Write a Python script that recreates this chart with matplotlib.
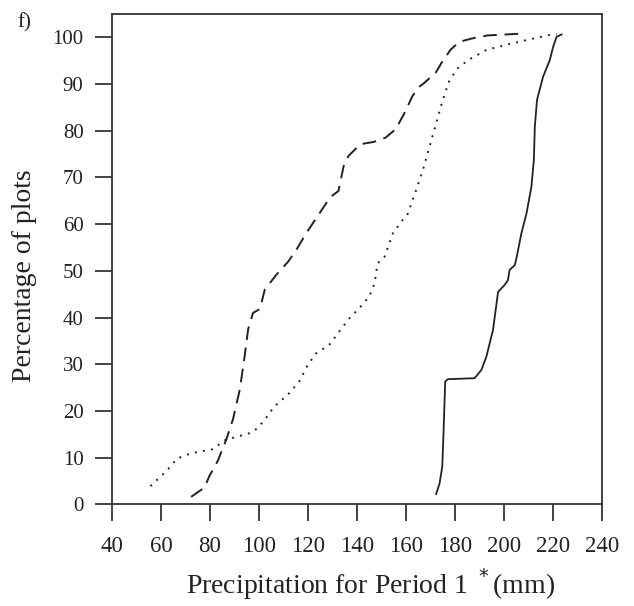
import matplotlib.pyplot as plt

plt.rcParams['font.family'] = ['Liberation Serif', 'DejaVu Serif']

# dashed curve
dash_x = [72.3, 77.8, 79.8, 83.2, 86.7, 89.4, 92.2, 94.2, 95.6, 97.6, 100.4, 102.4, 107.2,
          112.0, 115.4, 119.5, 125.0, 129.0, 132.5, 134.6, 136.6, 141.4, 146.9, 151.7, 155.8,
          159.2, 162.7, 165.4, 166.8, 172.2, 175.0, 178.4, 181.8, 186.6, 193.4, 207.8]
dash_y = [1.6, 3.6, 6.1, 9.3, 13.9, 18.2, 24.6, 31.8, 37.5, 41.0, 41.8, 46.0, 49.2,
          52.0, 54.6, 58.2, 62.5, 65.7, 67.1, 72.4, 74.6, 77.1, 77.6, 78.5, 80.3,
          83.5, 87.4, 89.4, 89.9, 92.4, 94.9, 97.4, 99.0, 99.7, 100.4, 100.8]

# dotted curve
dot_x = [55.7, 59.8, 63.2, 66.6, 72.1, 81.0, 86.4, 91.9, 96.7, 99.4, 102.8, 106.2, 111.7,
         116.5, 119.9, 123.3, 128.7, 132.8, 136.9, 141.0, 145.1, 147.2, 148.5, 151.3, 154.7,
         158.1, 160.8, 164.2, 167.0, 169.7, 172.4, 175.1, 177.9, 181.3, 185.4, 192.9, 201.1,
         209.3, 218.8, 221.6]
dot_y = [3.9, 5.9, 7.7, 9.8, 10.9, 11.8, 13.8, 14.6, 15.3, 16.3, 18.4, 20.9, 23.4,
         26.3, 29.8, 32.3, 34.1, 37.0, 39.8, 42.0, 44.5, 47.3, 51.6, 53.0, 58.0,
         60.5, 62.2, 67.3, 71.6, 76.6, 81.6, 86.6, 90.9, 93.4, 95.1, 97.3, 98.4,
         99.4, 100.5, 100.6]

# solid curve
solid_x = [172.4, 173.8, 174.9, 175.4, 176.1, 177.2, 188.1, 190.9, 192.9, 195.6, 197.7,
           200.4, 201.7, 202.4, 204.5, 205.2, 207.2, 209.3, 211.3, 212.3, 212.7, 213.6,
           216.1, 218.8, 220.2, 221.6, 223.6]
solid_y = [2.2, 4.5, 8.1, 15.2, 26.3, 26.8, 27.0, 28.8, 31.6, 37.3, 45.5,
           47.0, 48.0, 50.2, 51.2, 52.7, 58.0, 62.3, 68.0, 73.7, 80.9, 86.6,
           91.6, 95.1, 98.0, 100.1, 100.6]

x_ticks = list(range(40, 241, 20))
y_ticks = list(range(0, 101, 10))

fig = plt.figure(figsize=(6.34, 6.06), dpi=100)
ax = fig.add_axes([0.1767, 0.1678, 0.7723, 0.8092])

ax.plot(dash_x, dash_y, color='#222222', lw=1.4, linestyle=(0, (7, 4)))
ax.plot(dot_x, dot_y, color='#222222', lw=1.4, linestyle=(0, (1, 3.2)))
ax.plot(solid_x, solid_y, color='#222222', lw=1.3)

ax.set_xlim(40, 240)
ax.set_ylim(0, 105)
ax.set_xticks(x_ticks)
ax.set_yticks(y_ticks)
ax.tick_params(direction='out', width=1.2, colors='#222222')
ax.tick_params(axis='x', length=12.5, pad=10, labelsize=16.5)
ax.tick_params(axis='y', length=12.5, pad=8, labelsize=15)
for s in ax.spines.values():
    s.set_linewidth(1.3)
    s.set_color('#333333')

ax.set_xlabel('Precipitation for Period 1 $^*$(mm)', fontsize=20, color='#222222')
ax.set_ylabel('Percentage of plots', fontsize=20, color='#222222')
ax.xaxis.set_label_coords(0.527, -0.126)
ax.yaxis.set_label_coords(-0.154, 0.466)
fig.text(0.027, 0.955, 'f)', fontsize=15, color='#222222')

fig.savefig('out.png', dpi=100)
